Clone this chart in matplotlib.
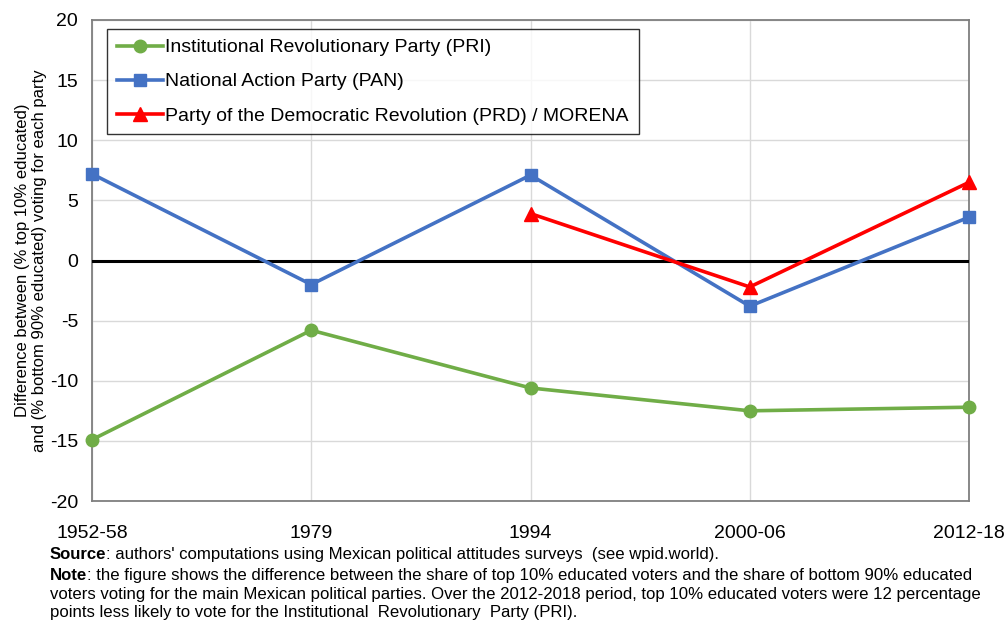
import matplotlib
matplotlib.use("Agg")
import matplotlib.pyplot as plt

periods = ["1952-58", "1979", "1994", "2000-06", "2012-18"]
pri = [-14.9, -5.8, -10.6, -12.5, -12.2]
pan = [7.2, -2.0, 7.1, -3.8, 3.6]
prd_periods = ["1994", "2000-06", "2012-18"]
prd = [3.9, -2.2, 6.5]
yticks = [-20, -15, -10, -5, 0, 5, 10, 15, 20]

plt.rcParams['font.family'] = ['Liberation Sans', 'DejaVu Sans']

fig = plt.figure(figsize=(10.07, 6.21), dpi=100)
ax = fig.add_axes([92/1007, 1-501/621, (969-92)/1007, (501-20)/621])

x = list(range(len(periods)))
xp = [periods.index(p) for p in prd_periods]

ax.plot(x, pri, color="#70AD47", lw=2.6, marker="o", ms=9, label="Institutional Revolutionary Party (PRI)", zorder=4, clip_on=False)
ax.plot(x, pan, color="#4472C4", lw=2.6, marker="s", ms=9, label="National Action Party (PAN)", zorder=4, clip_on=False)
ax.plot(xp, prd, color="#FF0000", lw=2.6, marker="^", ms=10, label="Party of the Democratic Revolution (PRD) / MORENA", zorder=5, clip_on=False)
ax.axhline(0, color="black", lw=2.2, zorder=3)

ax.set_xlim(0, len(periods) - 1)
ax.set_ylim(-20, 20)
ax.set_yticks(yticks)
ax.set_yticklabels([str(v) for v in yticks], fontsize=14)
ax.set_xticks(x)
ax.set_xticklabels(periods, fontsize=14)
ax.tick_params(axis='both', length=0)
ax.tick_params(axis='x', pad=17)
ax.tick_params(axis='y', pad=10)
ax.grid(True, color="#d9d9d9", lw=1, zorder=0)
for s in ax.spines.values():
    s.set_color("#7f7f7f")
    s.set_linewidth(1.3)

ax.set_ylabel("Difference between (% top 10% educated)\nand (% bottom 90% educated) voting for each party",
              fontsize=12, labelpad=2, linespacing=1.2)

leg = ax.legend(loc="upper left", bbox_to_anchor=((107-92)/877, 1-(29-20)/481), fontsize=14,
                frameon=True, fancybox=False, edgecolor="black", handlelength=2.4,
                handletextpad=0.1, borderpad=0.5, labelspacing=0.85, borderaxespad=0)
leg.get_frame().set_linewidth(1.0)

fs_note = 12.1
fig.canvas.draw()
r = fig.canvas.get_renderer()

def bold_line(ypix, bold, rest):
    t = fig.text(50/1007, 1-ypix/621, bold, fontsize=fs_note, fontweight="bold", va="baseline")
    bb = t.get_window_extent(renderer=r)
    fig.text(bb.x1/1007, 1-ypix/621, rest, fontsize=fs_note, va="baseline")

bold_line(559, "Source", ": authors' computations using Mexican political attitudes surveys  (see wpid.world).")
bold_line(580, "Note", ": the figure shows the difference between the share of top 10% educated voters and the share of bottom 90% educated")
fig.text(50/1007, 1-599/621, "voters voting for the main Mexican political parties. Over the 2012-2018 period, top 10% educated voters were 12 percentage",
         fontsize=fs_note, va="baseline")
fig.text(50/1007, 1-617/621, "points less likely to vote for the Institutional  Revolutionary  Party (PRI).",
         fontsize=fs_note, va="baseline")

fig.savefig("out.png", dpi=100)
